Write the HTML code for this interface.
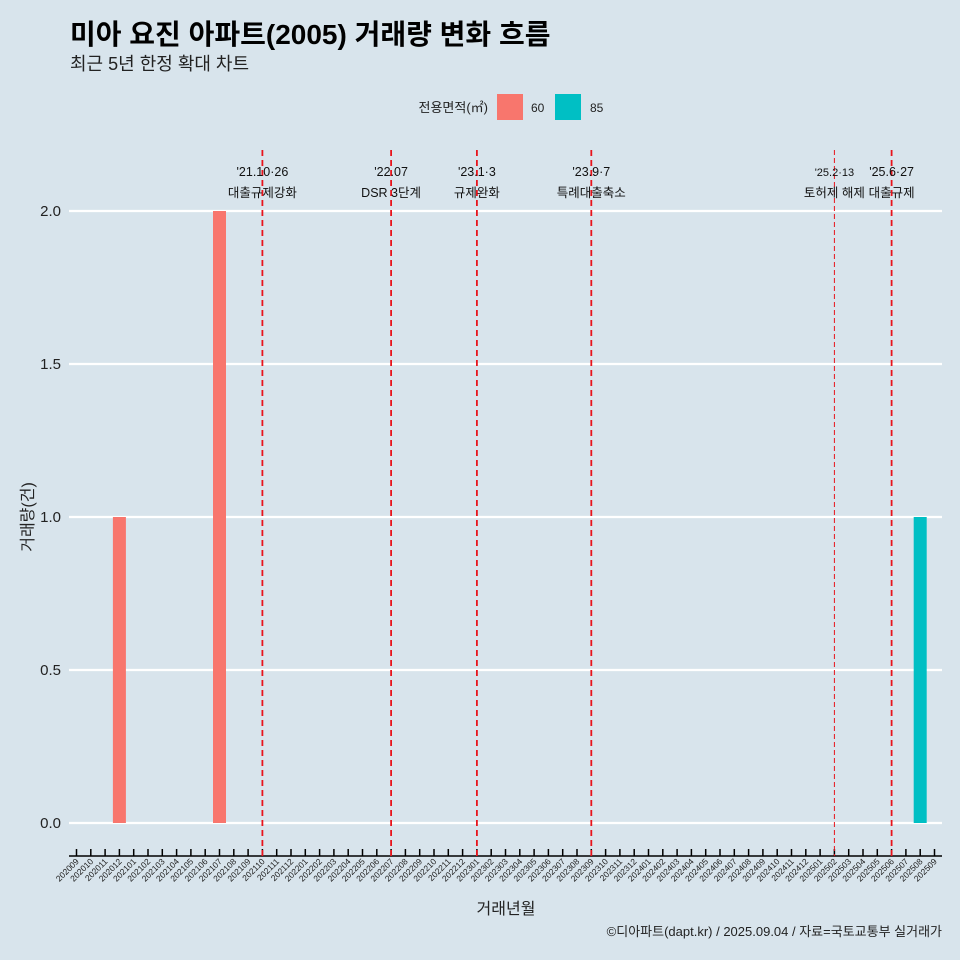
<!DOCTYPE html>
<html><head><meta charset="utf-8">
<style>
html,body{margin:0;padding:0;background:#d8e4ec;}
body{width:960px;height:960px;overflow:hidden;font-family:"Liberation Sans","Noto Sans CJK KR",sans-serif;}
</style></head>
<body>
<svg id="chart" width="960" height="960" xmlns="http://www.w3.org/2000/svg" font-family="Liberation Sans, Noto Sans CJK KR, sans-serif" style="display:block">
<rect x="0" y="0" width="960" height="960" fill="#d8e4ec"/>
<text x="70" y="44" font-size="28" font-weight="bold" fill="#000">미아 요진 아파트(2005) 거래량 변화 흐름</text>
<text x="70" y="70" font-size="18" fill="#222">최근 5년 한정 확대 차트</text>
<g>
<text x="488" y="112" font-size="13" text-anchor="end" fill="#222">전용면적(㎡)</text>
<rect x="497" y="94" width="26" height="26" fill="#f8766d"/>
<text x="531" y="112" font-size="12" fill="#222">60</text>
<rect x="555" y="94" width="26" height="26" fill="#00bfc4"/>
<text x="590" y="112" font-size="12" fill="#222">85</text>
</g>
<g id="plot"></g>
<text transform="translate(33,517) rotate(-90)" font-size="16" text-anchor="middle" fill="#222">거래량(건)</text>
<text x="506" y="914" font-size="16" text-anchor="middle" fill="#222">거래년월</text>
<text x="942" y="936" font-size="13" text-anchor="end" fill="#222">©디아파트(dapt.kr) / 2025.09.04 / 자료=국토교통부 실거래가</text>
</svg>
<script>
const months = [];
for (let y=2020, m=9; y*100+m<=202509; m++) { if (m>12){m=1;y++;} if (y*100+m>202509) break; months.push(String(y*100+m)); }
const seriesMonths = ["202012","202107","202508"];
const seriesValues = [1, 2, 1];
const seriesArea = ["60","60","85"];
const yTicks = [0, 0.5, 1.0, 1.5, 2.0];
const yTickLabels = ["0.0","0.5","1.0","1.5","2.0"];
const eventMonths = ["202110","202207","202301","202309","202502","202506"];
const eventDates = ["'21.10·26","'22.07","'23.1·3","'23.9·7","'25.2·13","'25.6·27"];
const eventNames = ["대출규제강화","DSR 3단계","규제완화","특례대출축소","토허제 해제","대출규제"];

const colors = {"60":"#f8766d","85":"#00bfc4"};
const NS="http://www.w3.org/2000/svg";
const g=document.getElementById('plot');
const x0=76.5, dx=14.3;
const xScale = mo => x0 + months.indexOf(mo)*dx;
const yScale = v => 823 - v*306;
function el(t,a){const e=document.createElementNS(NS,t);for(const k in a)e.setAttribute(k,a[k]);g.appendChild(e);return e;}

yTicks.forEach((v,i)=>{
  const l=el('line',{x1:69,x2:942,y1:yScale(v),y2:yScale(v),stroke:'#fff','stroke-width':2.2});
  
  
  const t=el('text',{x:61,y:yScale(v)+5,'font-size':15,'text-anchor':'end',fill:'#222'});
  t.textContent=yTickLabels[i];
  
  
});
seriesMonths.forEach((mo,i)=>{
  const r=el('rect',{x:xScale(mo)-6.5,y:yScale(seriesValues[i]),width:13,height:yScale(0)-yScale(seriesValues[i]),fill:colors[seriesArea[i]]});
  
  
});
const ax=el('line',{x1:69,x2:942,y1:856,y2:856,stroke:'#000','stroke-width':1.5});


months.forEach(mo=>{
  const x=xScale(mo);
  el('line',{x1:x,x2:x,y1:849,y2:856,stroke:'#000','stroke-width':1.5});
  const t=el('text',{x:x+3,y:862,'font-size':8.5,'text-anchor':'end',fill:'#222',transform:`rotate(-45 ${x+3} 862)`});
  t.textContent=mo;
  
  
});
eventMonths.forEach((mo,i)=>{
  const x=xScale(mo);
  const thin = mo==="202502";
  const l=el('line',{x1:x,x2:x,y1:150,y2:856,stroke:'#e8141c','stroke-width':thin?1:1.8,'stroke-dasharray':thin?'5,3':'6,4'});
  
  
  const t1=el('text',{x:x,y:176,'font-size':thin?11:12.5,'text-anchor':'middle',fill:'#111'});
  t1.textContent=eventDates[i];
  
  
  const t2=el('text',{x:x,y:197,'font-size':12.5,'text-anchor':'middle',fill:'#111'});
  t2.textContent=eventNames[i];
  
  
});
</script>
</body></html>
